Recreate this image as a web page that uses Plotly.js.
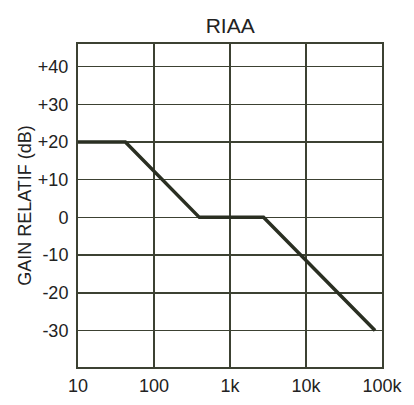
<!DOCTYPE html>
<html><head><meta charset="utf-8">
<script src="https://cdn.plot.ly/plotly-3.0.1.min.js"></script>
<style>html,body{margin:0;padding:0;background:#fff;}#chart{width:414px;height:405px;}</style>
</head><body><div id="chart"></div>
<script>
const freqHz = [10, 42, 395, 2760, 81000];
const gainDb = [20, 20, 0, 0, -30];
const yTickVals = [-30, -20, -10, 0, 10, 20, 30, 40];
const yTickText = ['-30', '-20', '-10', '0', '+10', '+20', '+30', '+40'];
const xTickVals = [10, 100, 1000, 10000, 100000];
const xTickText = ['10', '100', '1k', '10k', '100k'];

const ink = '#2a2f22';
const gridCol = '#3c4132';
const txt = '#222222';
const font = 'Liberation Sans, Arial, sans-serif';

Plotly.newPlot('chart', [{
  x: freqHz, y: gainDb, type: 'scatter', mode: 'lines',
  line: {color: ink, width: 3.5}, hoverinfo: 'skip', showlegend: false
}], {
  width: 414, height: 405,
  margin: {l: 78, r: 32, t: 44, b: 38},
  paper_bgcolor: '#fff', plot_bgcolor: '#fff',
  title: {text: 'RIAA', font: {family: font, size: 21, color: txt}, x: 0.556, xanchor: 'center', y: 0.937, yanchor: 'middle'},
  xaxis: {
    type: 'log', range: [1, 5], tickvals: xTickVals, ticktext: xTickText,
    showgrid: true, gridcolor: gridCol, gridwidth: 1.6,
    showline: true, mirror: true, linecolor: gridCol, linewidth: 2,
    ticks: '', ticklabelstandoff: 1, zeroline: false,
    tickfont: {family: font, size: 18, color: txt}
  },
  yaxis: {
    range: [-39.7, 46], tickvals: yTickVals, ticktext: yTickText,
    showgrid: true, gridcolor: gridCol, gridwidth: 1.6,
    showline: true, mirror: true, linecolor: gridCol, linewidth: 2,
    ticks: '', ticklabelstandoff: 4, zeroline: false,
    tickfont: {family: font, size: 18, color: txt},
    title: {text: 'GAIN RELATIF (dB)', standoff: 2, font: {family: font, size: 18, color: txt}}
  }
}, {displayModeBar: false, staticPlot: true});
</script></body></html>
